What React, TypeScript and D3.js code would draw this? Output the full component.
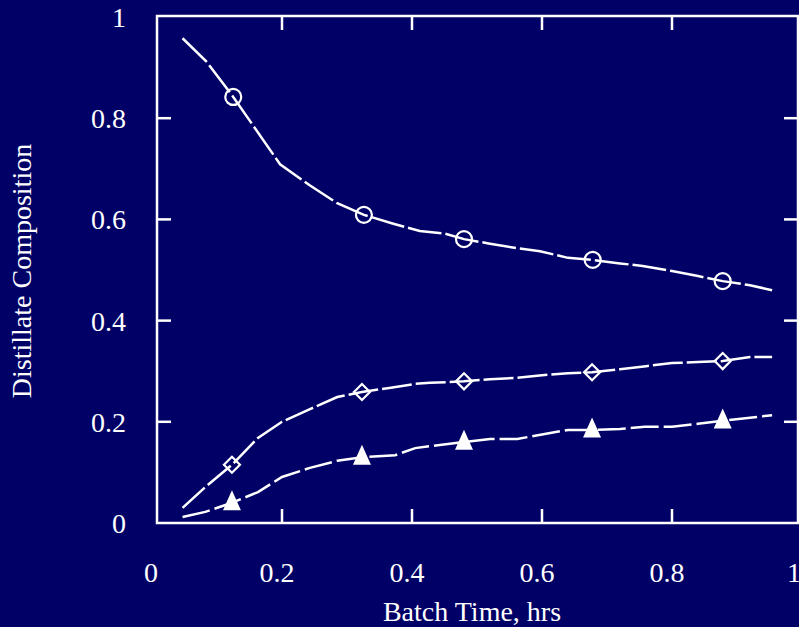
import React from "react";
import * as d3 from "d3";

const W = 799;
const H = 627;

// Batch time (hrs) and distillate composition for each component
const circleX = [0.047, 0.083, 0.125, 0.197, 0.242, 0.285, 0.326, 0.37, 0.412, 0.45, 0.48, 0.52, 0.562, 0.597, 0.64, 0.678, 0.72, 0.755, 0.8, 0.84, 0.878, 0.92, 0.954];
const circleY = [0.958, 0.913, 0.842, 0.709, 0.668, 0.632, 0.609, 0.592, 0.577, 0.572, 0.561, 0.552, 0.543, 0.537, 0.524, 0.52, 0.513, 0.508, 0.498, 0.488, 0.478, 0.47, 0.46];

const diamondX = [0.047, 0.082, 0.123, 0.163, 0.2, 0.243, 0.285, 0.323, 0.365, 0.405, 0.428, 0.48, 0.52, 0.562, 0.6, 0.64, 0.677, 0.72, 0.76, 0.8, 0.84, 0.878, 0.92, 0.954];
const diamondY = [0.03, 0.071, 0.115, 0.168, 0.2, 0.225, 0.249, 0.259, 0.267, 0.275, 0.277, 0.28, 0.284, 0.287, 0.292, 0.296, 0.298, 0.304, 0.31, 0.316, 0.318, 0.32, 0.328, 0.328];

const triX = [0.047, 0.082, 0.123, 0.163, 0.2, 0.243, 0.285, 0.323, 0.374, 0.405, 0.428, 0.48, 0.52, 0.562, 0.6, 0.64, 0.677, 0.72, 0.758, 0.8, 0.84, 0.878, 0.92, 0.954];
const triY = [0.012, 0.022, 0.04, 0.061, 0.091, 0.109, 0.123, 0.13, 0.134, 0.148, 0.152, 0.16, 0.166, 0.166, 0.175, 0.184, 0.184, 0.186, 0.19, 0.19, 0.196, 0.202, 0.208, 0.213];

const circleMarkerIdx = [2, 6, 10, 15, 20];
const diamondMarkerIdx = [2, 7, 11, 16, 21];
const triMarkerIdx = [2, 7, 11, 16, 21];

const xTicks = [0, 0.2, 0.4, 0.6, 0.8, 1];
const yTicks = [0, 0.2, 0.4, 0.6, 0.8, 1];
const xTickLabels = ["0", "0.2", "0.4", "0.6", "0.8", "1"];
const yTickLabels = ["0", "0.2", "0.4", "0.6", "0.8", "1"];

const BG = "#000066";
const FG = "#ffffff";
const FONT = "'Liberation Serif', 'Times New Roman', serif";

export default function App() {
  const x = d3.scaleLinear().domain([0, 1]).range([152, 802]);
  const y = d3.scaleLinear().domain([0, 1]).range([523, 17]);
  const frameL = 157, frameR = 798, frameT = 16, frameB = 523;
  const tickLen = 14;

  const line = d3.line<[number, number]>().x((d) => x(d[0])).y((d) => y(d[1]));
  const zip = (a: number[], b: number[]) => a.map((v, i) => [v, b[i]] as [number, number]);

  const series = [
    { xs: circleX, ys: circleY, idx: circleMarkerIdx, kind: "circle", dash: "34,4" },
    { xs: diamondX, ys: diamondY, idx: diamondMarkerIdx, kind: "diamond", dash: "30,4" },
    { xs: triX, ys: triY, idx: triMarkerIdx, kind: "triangle", dash: "28,5" },
  ];

  const marker = (kind: string, cx: number, cy: number, key: string) => {
    if (kind === "circle") {
      return <circle key={key} cx={cx} cy={cy} r={8} fill="none" stroke={FG} strokeWidth={2.2} />;
    }
    if (kind === "diamond") {
      const s = 8;
      return (
        <path key={key} d={`M${cx},${cy - s}L${cx + s},${cy}L${cx},${cy + s}L${cx - s},${cy}Z`} fill="none" stroke={FG} strokeWidth={2.2} />
      );
    }
    const w = 9, h = 20;
    return <path key={key} d={`M${cx},${cy - h * 0.62}L${cx + w},${cy + h * 0.38}L${cx - w},${cy + h * 0.38}Z`} fill={FG} />;
  };

  return (
    <svg width={W} height={H} style={{ position: "absolute", left: 0, top: 0, display: "block" }}>
      <rect x={0} y={0} width={W} height={H} fill={BG} />
      {/* frame */}
      <rect x={frameL} y={frameT} width={frameR - frameL} height={frameB - frameT} fill="none" stroke={FG} strokeWidth={2.5} />
      {/* ticks */}
      {xTicks.slice(1, -1).map((t) => (
        <g key={"xt" + t}>
          <line x1={x(t)} x2={x(t)} y1={frameB} y2={frameB - tickLen} stroke={FG} strokeWidth={2.5} />
          <line x1={x(t)} x2={x(t)} y1={frameT} y2={frameT + tickLen} stroke={FG} strokeWidth={2.5} />
        </g>
      ))}
      {yTicks.slice(1, -1).map((t) => (
        <g key={"yt" + t}>
          <line x1={frameL} x2={frameL + tickLen} y1={y(t)} y2={y(t)} stroke={FG} strokeWidth={2.5} />
          <line x1={frameR} x2={frameR - tickLen} y1={y(t)} y2={y(t)} stroke={FG} strokeWidth={2.5} />
        </g>
      ))}
      {/* tick labels */}
      {xTicks.map((t, i) => (
        <text key={"xl" + t} x={x(t) - (i === 0 ? 1 : i === xTicks.length - 1 ? 8 : 5)} y={582} textAnchor="middle" fill={FG} fontFamily={FONT} fontSize={28}>
          {xTickLabels[i]}
        </text>
      ))}
      {yTicks.map((t, i) => (
        <text key={"yl" + t} x={126} y={y(t) + 10} textAnchor="end" fill={FG} fontFamily={FONT} fontSize={28}>
          {yTickLabels[i]}
        </text>
      ))}
      {/* axis titles */}
      <text x={472} y={621} textAnchor="middle" fill={FG} fontFamily={FONT} fontSize={28}>
        Batch Time, hrs
      </text>
      <text transform={`translate(31,271) rotate(-90)`} textAnchor="middle" fill={FG} fontFamily={FONT} fontSize={28}>
        Distillate Composition
      </text>
      {/* series */}
      {series.map((s, si) => (
        <g key={"s" + si}>
          <path d={line(zip(s.xs, s.ys)) || ""} fill="none" stroke={FG} strokeWidth={2.5} strokeDasharray={s.dash} />
          {s.idx.map((i) => marker(s.kind, x(s.xs[i]), y(s.ys[i]), `m${si}-${i}`))}
        </g>
      ))}
    </svg>
  );
}
